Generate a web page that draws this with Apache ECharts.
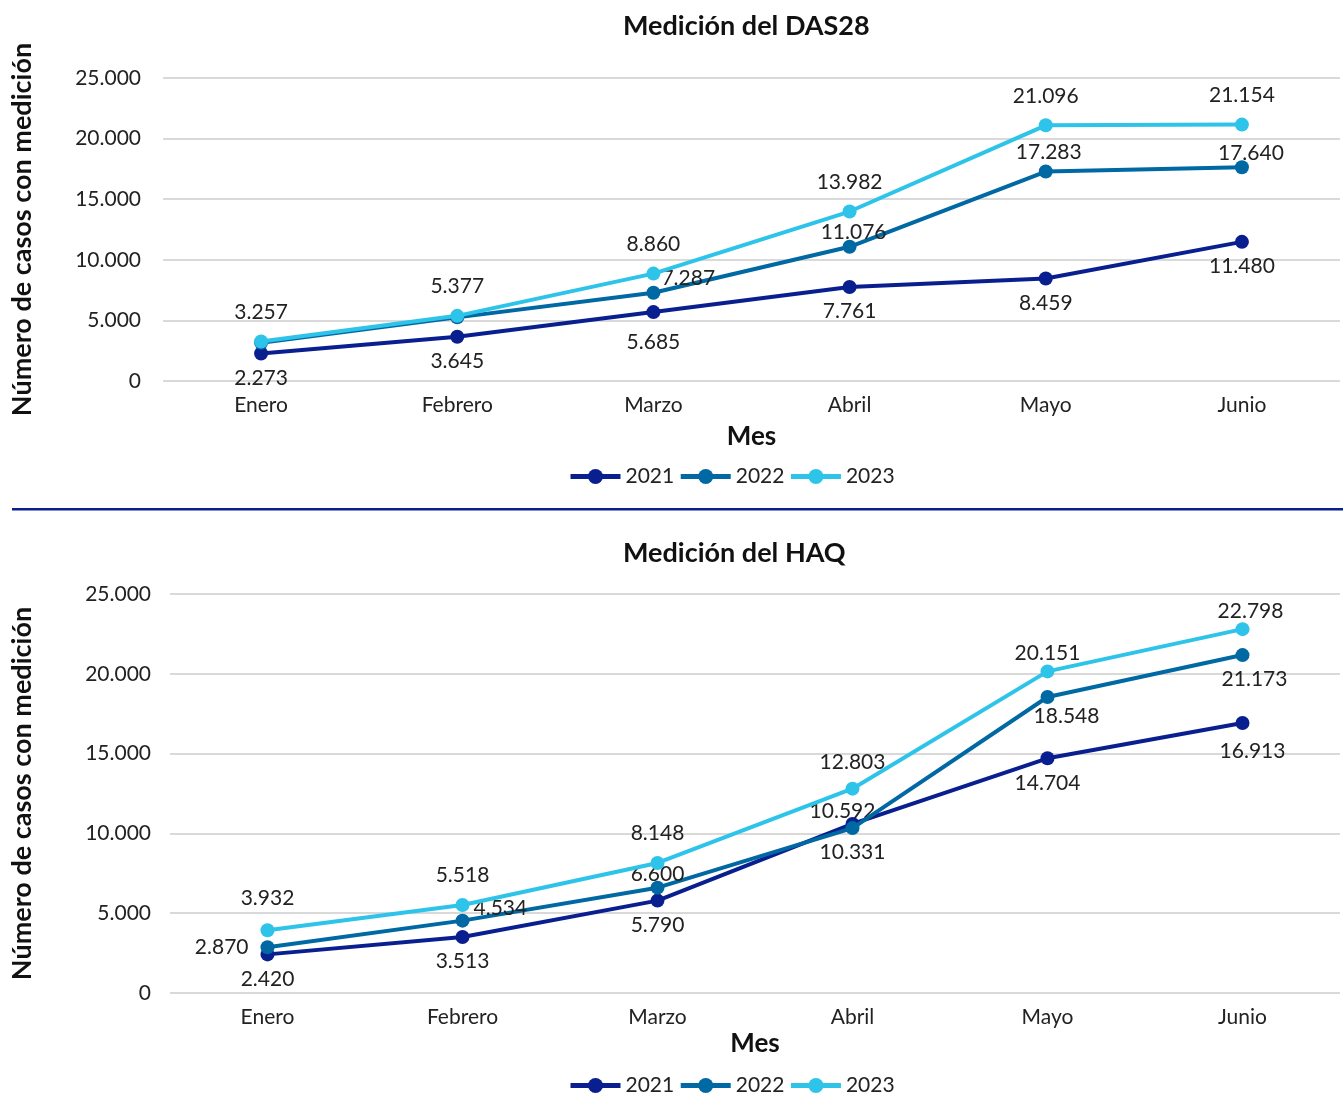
<!DOCTYPE html>
<html>
<head>
<meta charset="utf-8">
<script src="https://cdn.jsdelivr.net/npm/echarts@6/dist/echarts.min.js"></script>
<style>
  html, body { margin: 0; padding: 0; background: #fff; }
  #chart { width: 1343px; height: 1095px; }
</style>
</head>
<body>
<div id="chart"></div>
<script>
// Months on the x axis
const months = ['Enero', 'Febrero', 'Marzo', 'Abril', 'Mayo', 'Junio'];
const years = ['2021', '2022', '2023'];

// DAS28 measurements per month
const das28_2021 = [2273, 3645, 5685, 7761, 8459, 11480];
const das28_2022 = [3150, 5250, 7287, 11076, 17283, 17640];
const das28_2023 = [3257, 5377, 8860, 13982, 21096, 21154];

// HAQ measurements per month
const haq_2021 = [2420, 3513, 5790, 10592, 14704, 16913];
const haq_2022 = [2870, 4534, 6600, 10331, 18548, 21173];
const haq_2023 = [3932, 5518, 8148, 12803, 20151, 22798];

const colors = ['#0a1f8f', '#0068a3', '#2ec4ea'];
const FONT = 'Lato';
const TXT = 21;
const BOLD = 26;

const fmt = v => Math.round(v).toString().replace(/\B(?=(\d{3})+(?!\d))/g, '.');

// Build per-point data with optional label overrides
function points(values, labelOpts) {
  return values.map((v, i) => {
    const o = labelOpts && labelOpts[i];
    if (!o) return v;
    return { value: v, label: o };
  });
}

function makeSeries(name, values, gridIdx, color, pos, overrides) {
  return {
    name: name,
    type: 'line',
    xAxisIndex: gridIdx,
    yAxisIndex: gridIdx,
    data: points(values, overrides),
    symbol: 'circle',
    symbolSize: 14,
    lineStyle: { width: 4, color: color },
    itemStyle: { color: color },
    label: {
      show: true,
      position: pos,
      distance: pos === 'top' ? 12 : 7,
      formatter: p => fmt(p.value),
      fontFamily: FONT,
      fontSize: TXT,
      color: '#222'
    },
    z: 2 + years.indexOf(name)
  };
}

function xAxis(gridIdx, gap) {
  return {
    type: 'category',
    gridIndex: gridIdx,
    data: months,
    boundaryGap: true,
    axisLine: { show: false },
    axisTick: { show: false },
    axisLabel: { fontFamily: FONT, fontSize: TXT, color: '#222', margin: 14 },
    name: 'Mes',
    nameLocation: 'middle',
    nameGap: gap,
    nameTextStyle: { fontFamily: FONT, fontSize: BOLD, fontWeight: 'bold', color: '#111' }
  };
}

function yAxis(gridIdx, margin, gap) {
  return {
    type: 'value',
    gridIndex: gridIdx,
    min: 0,
    max: 25000,
    interval: 5000,
    axisLine: { show: false },
    axisTick: { show: false },
    splitLine: { lineStyle: { color: '#d9d9d9', width: 2 } },
    axisLabel: { fontFamily: FONT, fontSize: TXT, color: '#222', margin: margin, formatter: fmt },
    name: 'Número de casos con medición',
    nameLocation: 'middle',
    nameRotate: 90,
    nameGap: gap,
    nameTextStyle: { fontFamily: FONT, fontSize: 27, fontWeight: 'bold', color: '#111' }
  };
}

const legendBase = {
  data: years,
  itemWidth: 50,
  itemHeight: 19,
  itemGap: 4,
  lineStyle: { width: 5 },
  textStyle: { fontFamily: FONT, fontSize: TXT, color: '#222' },
  left: 563
};

const hide = { show: false };
const titleStyle = { fontFamily: FONT, fontSize: 27, fontWeight: 'bold', color: '#111' };

const option = {
  animation: false,
  color: colors,
  title: [
    { text: 'Medición del DAS28', left: 618, top: 8, textStyle: titleStyle },
    { text: 'Medición del HAQ', left: 618, top: 535, textStyle: titleStyle }
  ],
  legend: [
    Object.assign({ top: 461 }, legendBase),
    Object.assign({ top: 1070 }, legendBase)
  ],
  grid: [
    { left: 163, right: 3, top: 78, height: 303 },
    { left: 170, right: 3, top: 594, height: 399 }
  ],
  xAxis: [xAxis(0, 43), xAxis(1, 38)],
  yAxis: [yAxis(0, 22, 127), yAxis(1, 19, 134)],
  graphic: [
    { type: 'rect', shape: { x: 12, y: 508, width: 1331, height: 2.5 }, style: { fill: '#0a1f8f' } }
  ],
  series: [
    makeSeries('2021', das28_2021, 0, colors[0], 'bottom', [null, null, { offset: [0, 6] }, null, null, null]),
    makeSeries('2022', das28_2022, 0, colors[1], 'top', [
      hide, hide,
      { position: 'right', distance: 1, offset: [0, -14] },
      { offset: [4, 15] },
      { offset: [3, 10] },
      { offset: [9, 16] }
    ]),
    makeSeries('2023', das28_2023, 0, colors[2], 'top'),
    makeSeries('2021', haq_2021, 1, colors[0], 'bottom', [
      null, null, null,
      { position: 'top', offset: [-10, 12] },
      null,
      { offset: [10, 4] }
    ]),
    makeSeries('2022', haq_2022, 1, colors[1], 'bottom', [
      { position: 'left', distance: 12 },
      { position: 'right', distance: 4, offset: [0, -12] },
      { position: 'top', distance: 0, offset: [0, 4] },
      null,
      { offset: [19, -5] },
      { offset: [12, 0] }
    ]),
    makeSeries('2023', haq_2023, 1, colors[2], 'top', [
      { offset: [0, -3] }, null, null, { offset: [0, 3] },
      { offset: [0, 11] },
      { offset: [8, 12] }
    ])
  ]
};

const chart = echarts.init(document.getElementById('chart'), null, { renderer: 'canvas' });
chart.setOption(option);
</script>
</body>
</html>
